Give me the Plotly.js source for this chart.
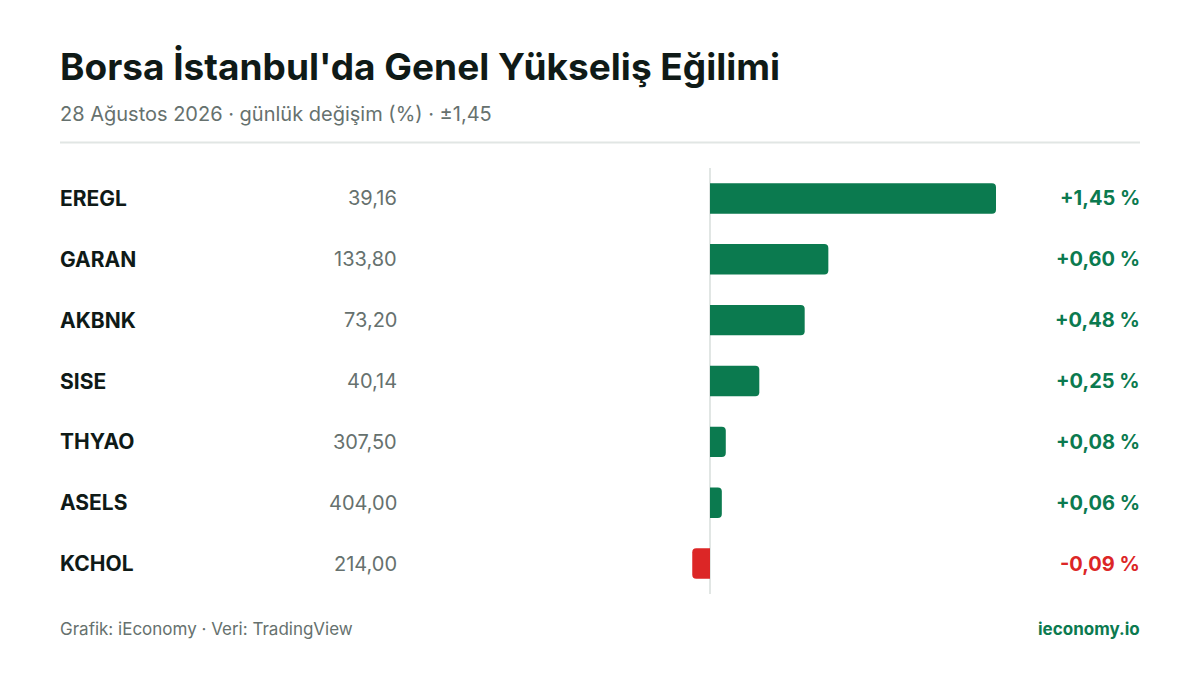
<!DOCTYPE html>
<html>
<head>
<meta charset="utf-8">
<script src="https://cdn.plot.ly/plotly-3.0.1.min.js"></script>
<style>html,body{margin:0;padding:0;background:#fff;}#chart{width:1200px;height:675px;}</style>
</head>
<body>
<div id="chart"></div>
<script>
const tickers = ["EREGL", "GARAN", "AKBNK", "SISE", "THYAO", "ASELS", "KCHOL"];
const prices = ["39,16", "133,80", "73,20", "40,14", "307,50", "404,00", "214,00"];
const changes = [1.45, 0.60, 0.48, 0.25, 0.08, 0.06, -0.09];
const changeLabels = ["+1,45 %", "+0,60 %", "+0,48 %", "+0,25 %", "+0,08 %", "+0,06 %", "-0,09 %"];

const GREEN = "#0b7a4f", RED = "#dc2626", DARK = "#0f1a17", GRAY = "#66716e";
const FONT = "Inter, 'Noto Sans', sans-serif";

const W = 1200, H = 675, mL = 60, mR = 60, mT = 167.5, mB = 80.5;
const plotH = H - mT - mB;
const py = p => (H - mB - p) / plotH; // pixel y -> paper y

const colors = changes.map(v => v >= 0 ? GREEN : RED);

const trace = {
  type: "bar",
  orientation: "h",
  x: changes,
  y: tickers,
  width: 0.5,
  marker: { color: colors, cornerradius: 4 },
  hoverinfo: "skip"
};

const annotations = [];
tickers.forEach((t, i) => {
  annotations.push({ xref: "paper", yref: "y", x: 0, y: t, xshift: -2, text: t, showarrow: false, xanchor: "left", yanchor: "middle",
    font: { family: FONT, size: 21, color: DARK, weight: 700 } });
  annotations.push({ xref: "paper", yref: "y", x: (397 - mL) / (W - mL - mR), y: t, xshift: 2, text: prices[i], showarrow: false, xanchor: "right", yanchor: "middle",
    font: { family: FONT, size: 20, color: GRAY } });
  annotations.push({ xref: "paper", yref: "y", x: 1, y: t, xshift: 2, text: changeLabels[i], showarrow: false, xanchor: "right", yanchor: "middle",
    font: { family: FONT, size: 20, color: changes[i] >= 0 ? GREEN : RED, weight: 700 } });
});
annotations.push({ xref: "paper", yref: "paper", x: 0, y: py(66), xshift: -2, text: "Borsa İstanbul'da Genel Yükseliş Eğilimi", showarrow: false, xanchor: "left", yanchor: "middle",
  font: { family: FONT, size: 37, color: DARK, weight: 700 } });
annotations.push({ xref: "paper", yref: "paper", x: 0, y: py(113), xshift: -2, text: "28 Ağustos 2026 · günlük değişim (%) · ±1,45", showarrow: false, xanchor: "left", yanchor: "middle",
  font: { family: FONT, size: 20, color: GRAY } });
annotations.push({ xref: "paper", yref: "paper", x: 0, y: py(630), xshift: -2, text: "Grafik: iEconomy · Veri: TradingView", showarrow: false, xanchor: "left", yanchor: "middle",
  font: { family: FONT, size: 17, color: GRAY } });
annotations.push({ xref: "paper", yref: "paper", x: 1, y: py(630), xshift: 2, text: "ieconomy.io", showarrow: false, xanchor: "right", yanchor: "middle",
  font: { family: FONT, size: 17, color: GREEN, weight: 700 } });

const pxPerUnit = 286 / 1.45;
const plotW = W - mL - mR;
const xMin = -(710 - mL) / pxPerUnit;
const xMax = xMin + plotW / pxPerUnit;

const layout = {
  width: W, height: H,
  margin: { l: mL, r: mR, t: mT, b: mB, pad: 0 },
  paper_bgcolor: "#ffffff", plot_bgcolor: "#ffffff",
  showlegend: false,
  xaxis: { range: [xMin, xMax], showgrid: false, showticklabels: false, ticks: "", zeroline: false, fixedrange: true },
  yaxis: { type: "category", autorange: false, range: [6.5, -0.5], showgrid: false, showticklabels: false, ticks: "", zeroline: false, fixedrange: true },
  shapes: [
    { type: "line", xref: "paper", yref: "paper", x0: 0, x1: 1, y0: py(142), y1: py(142), line: { color: "#e1e6e4", width: 2 } },
    { type: "line", xref: "x", yref: "paper", x0: 0, x1: 0, y0: 0, y1: 1, line: { color: "#e1e6e4", width: 2 }, layer: "below" }
  ],
  annotations: annotations
};

Plotly.newPlot("chart", [trace], layout, { displayModeBar: false, staticPlot: true });
</script>
</body>
</html>
